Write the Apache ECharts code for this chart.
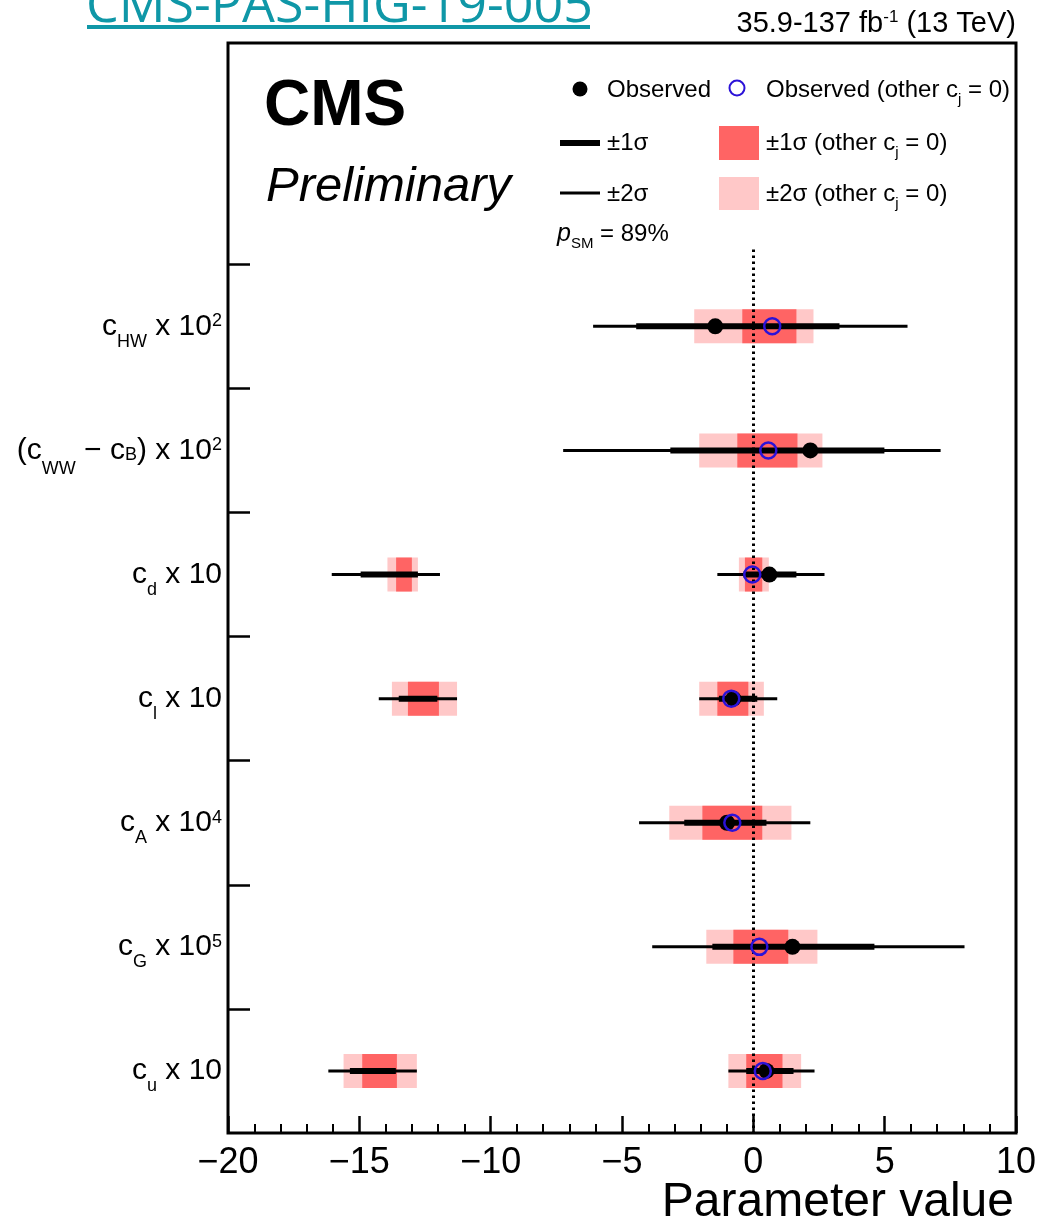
<!DOCTYPE html>
<html><head><meta charset="utf-8">
<script src="https://cdn.jsdelivr.net/npm/echarts@6/dist/echarts.min.js"></script>
<style>html,body{margin:0;padding:0;background:#fff}#chart{width:1041px;height:1231px}</style>
</head><body><div id="chart"></div>
<script>
// ---------- data (top row first) ----------
const categories = [
  '{m|c}{s|HW}{m| x 10}{p|2}',
  '{m|(c}{w|WW}{m| − c}{b|B}{m|) x 10}{p|2}',
  '{m|c}{s|d}{m| x 10}',
  '{m|c}{s|l}{m| x 10}',
  '{m|c}{s|A}{m| x 10}{p|4}',
  '{m|c}{s|G}{m| x 10}{p|5}',
  '{m|c}{s|u}{m| x 10}'
];
const observed      = [-1.45, 2.17, 0.61, -0.76, -1.0, 1.49, 0.50];
const observedOther = [0.72, 0.57, -0.04, -0.84, -0.80, 0.23, 0.36];
const sigma1 = [
  [[-4.46, 3.28]],
  [[-3.16, 4.99]],
  [[-14.95, -12.77], [-0.38, 1.64]],
  [[-13.5, -12.03], [-1.31, 0.15]],
  [[-2.63, 0.50]],
  [[-1.56, 4.61]],
  [[-15.36, -13.61], [-0.27, 1.53]]
];
const sigma2 = [
  [[-6.10, 5.87]],
  [[-7.24, 7.13]],
  [[-16.05, -11.93], [-1.37, 2.71]],
  [[-14.26, -11.28], [-2.06, 0.91]],
  [[-4.35, 2.17]],
  [[-3.85, 8.04]],
  [[-16.18, -12.81], [-0.95, 2.33]]
];
const sigma1Other = [
  [[-0.42, 1.64]],
  [[-0.61, 1.68]],
  [[-13.6, -13.0], [-0.32, 0.34]],
  [[-13.15, -11.97], [-1.37, -0.19]],
  [[-1.94, 0.34]],
  [[-0.76, 1.33]],
  [[-14.89, -13.57], [-0.27, 1.11]]
];
const sigma2Other = [
  [[-2.25, 2.29]],
  [[-2.06, 2.63]],
  [[-13.93, -12.77], [-0.55, 0.59]],
  [[-13.76, -11.28], [-2.06, 0.40]],
  [[-3.20, 1.45]],
  [[-1.79, 2.44]],
  [[-15.60, -12.81], [-0.95, 1.82]]
];
const xMin = -20, xMax = 10, xStep = 5;
const smValue = 0;
const zeroLineTop = 6.62;
const xTitle = 'Parameter value';

// ---------- helpers ----------
const N = categories.length;
const rowY = i => N - 1 - i;
function intervals(arr) {
  const out = [];
  arr.forEach((pairs, i) => pairs.forEach(p => out.push([p[0], p[1], rowY(i)])));
  return out;
}
function points(arr) { return arr.map((v, i) => [v, rowY(i)]); }

const FONT = "'Liberation Sans', Arial, Helvetica, sans-serif";
const RED = '#ff6464', PINK = '#ffc8c8', BLUE = '#2b12d8';

function boxRenderer(color, h) {
  return function (params, api) {
    const a = api.coord([api.value(0), api.value(2)]);
    const b = api.coord([api.value(1), api.value(2)]);
    return { type: 'rect', shape: { x: a[0], y: a[1] - h / 2, width: b[0] - a[0], height: h },
      style: { fill: color } };
  };
}
function lineRenderer(w) {
  return function (params, api) {
    const a = api.coord([api.value(0), api.value(2)]);
    const b = api.coord([api.value(1), api.value(2)]);
    return { type: 'line', shape: { x1: a[0], y1: a[1], x2: b[0], y2: b[1] },
      style: { stroke: '#000', lineWidth: w, lineCap: 'butt' } };
  };
}

const yTickVals = categories.map((_, i) => i + 0.5);
const yLabelVals = categories.map((_, i) => i);

const legRich = {
  n: { fontFamily: FONT, fontSize: 24, color: '#000' },
  s: { fontFamily: FONT, fontSize: 15, color: '#000', padding: [20, 0, 0, 0] },
  i: { fontFamily: FONT, fontSize: 25, fontStyle: 'italic', color: '#000' }
};
function legText(x, y, txt) {
  return { type: 'text', x: x, y: y, style: { text: txt, rich: legRich, font: '24px ' + FONT,
    fill: '#000', align: 'left', verticalAlign: 'middle' } };
}

const chart = echarts.init(document.getElementById('chart'), null, { renderer: 'canvas' });
chart.setOption({
  animation: false,
  backgroundColor: '#fff',
  grid: { left: 228, right: 25, top: 43, bottom: 98, show: true, borderColor: '#000', borderWidth: 3,
    backgroundColor: 'transparent', containLabel: false, outerBoundsMode: 'none' },
  xAxis: {
    type: 'value', min: xMin, max: xMax, interval: xStep,
    axisLine: { show: false, onZero: false },
    axisTick: { show: true, inside: true, length: 17, lineStyle: { color: '#000', width: 2.5 } },
    minorTick: { show: true, splitNumber: 5, length: 9, lineStyle: { color: '#000', width: 2 } },
    splitLine: { show: false },
    axisLabel: { color: '#000', fontSize: 36, fontFamily: FONT, margin: 12,
      formatter: v => String(v).replace('-', '\u2212') }
  },
  yAxis: {
    type: 'value', min: -0.5, max: 8.283,
    axisLine: { show: false, onZero: false },
    splitLine: { show: false },
    axisTick: { show: true, inside: true, length: 22, customValues: yTickVals,
      lineStyle: { color: '#000', width: 2.5 } },
    axisLabel: {
      customValues: yLabelVals, margin: 6, color: '#000',
      formatter: v => { const i = N - 1 - Math.round(v); return (i >= 0 && i < N) ? categories[i] : ''; },
      rich: {
        m: { fontFamily: FONT, fontSize: 30, color: '#000' },
        s: { fontFamily: FONT, fontSize: 18, color: '#000', padding: [31, 0, 0, 0] },
        w: { fontFamily: FONT, fontSize: 18, color: '#000', padding: [38, 0, 0, 0] },
        b: { fontFamily: FONT, fontSize: 18, color: '#000', padding: [10, 0, 0, 0] },
        p: { fontFamily: FONT, fontSize: 18, color: '#000', padding: [0, 0, 10, 0] }
      }
    }
  },
  series: [
    { name: '±2σ (other cj = 0)', type: 'custom', renderItem: boxRenderer(PINK, 34),
      encode: { x: [0, 1], y: 2 }, data: intervals(sigma2Other), z: 1 },
    { name: '±1σ (other cj = 0)', type: 'custom', renderItem: boxRenderer(RED, 34),
      encode: { x: [0, 1], y: 2 }, data: intervals(sigma1Other), z: 2,
      markLine: { silent: true, symbol: ['none', 'none'], label: { show: false },
        lineStyle: { color: '#000', width: 3, type: [2.5, 3.5] },
        data: [[{ coord: [smValue, zeroLineTop] }, { coord: [smValue, -0.5] }]] } },
    { name: '±2σ', type: 'custom', renderItem: lineRenderer(3),
      encode: { x: [0, 1], y: 2 }, data: intervals(sigma2), z: 3 },
    { name: '±1σ', type: 'custom', renderItem: lineRenderer(6),
      encode: { x: [0, 1], y: 2 }, data: intervals(sigma1), z: 4 },
    { name: 'Observed', type: 'scatter', symbol: 'circle', symbolSize: 16,
      itemStyle: { color: '#000', opacity: 1 }, data: points(observed), z: 5 },
    { name: 'Observed (other cj = 0)', type: 'scatter', symbol: 'circle', symbolSize: 16,
      itemStyle: { color: 'rgba(0,0,0,0)', borderColor: BLUE, borderWidth: 2.5, opacity: 1 },
      data: points(observedOther), z: 6 }
  ],
  graphic: [
    { type: 'text', x: 86, y: 7, style: { text: 'CMS-PAS-HIG-19-005', font: "52px 'Open Sans', sans-serif",
      fill: '#0f97a7', align: 'left', verticalAlign: 'middle' } },
    { type: 'rect', shape: { x: 87, y: 25, width: 503, height: 4 }, style: { fill: '#0f97a7' } },
    { type: 'text', x: 1016, y: 24, style: { text: '{n|35.9-137 fb}{u|-1}{n| (13 TeV)}', align: 'right',
      verticalAlign: 'middle', rich: {
        n: { fontFamily: FONT, fontSize: 29, color: '#000' },
        u: { fontFamily: FONT, fontSize: 17, color: '#000', padding: [0, 0, 13, 0] } } } },
    { type: 'text', x: 264, y: 107, style: { text: 'CMS', font: 'bold 64px ' + FONT, fill: '#000',
      align: 'left', verticalAlign: 'middle' } },
    { type: 'text', x: 266, y: 187, style: { text: 'Preliminary', font: 'italic 49px ' + FONT, fill: '#000',
      align: 'left', verticalAlign: 'middle' } },
    { type: 'text', x: 1014, y: 1203, style: { text: xTitle, font: '48px ' + FONT, fill: '#000',
      align: 'right', verticalAlign: 'middle' } },
    // legend
    { type: 'circle', shape: { cx: 580, cy: 89, r: 7.5 }, style: { fill: '#000' } },
    legText(607, 90, '{n|Observed}'),
    { type: 'circle', shape: { cx: 737, cy: 88, r: 7.5 }, style: { fill: 'none', stroke: BLUE, lineWidth: 2 } },
    legText(766, 90, '{n|Observed (other c}{s|j}{n| = 0)}'),
    { type: 'rect', shape: { x: 560, y: 140, width: 40, height: 6 }, style: { fill: '#000' } },
    legText(607, 143, '{n|±1σ}'),
    { type: 'rect', shape: { x: 719, y: 126, width: 40, height: 34 }, style: { fill: RED } },
    legText(766, 143, '{n|±1σ (other c}{s|j}{n| = 0)}'),
    { type: 'rect', shape: { x: 560, y: 191.5, width: 40, height: 3 }, style: { fill: '#000' } },
    legText(607, 194, '{n|±2σ}'),
    { type: 'rect', shape: { x: 719, y: 177, width: 40, height: 33 }, style: { fill: PINK } },
    legText(766, 194, '{n|±2σ (other c}{s|j}{n| = 0)}'),
    legText(557, 234, '{i|p}{s|SM}{n| = 89%}')
  ]
});
</script></body></html>
